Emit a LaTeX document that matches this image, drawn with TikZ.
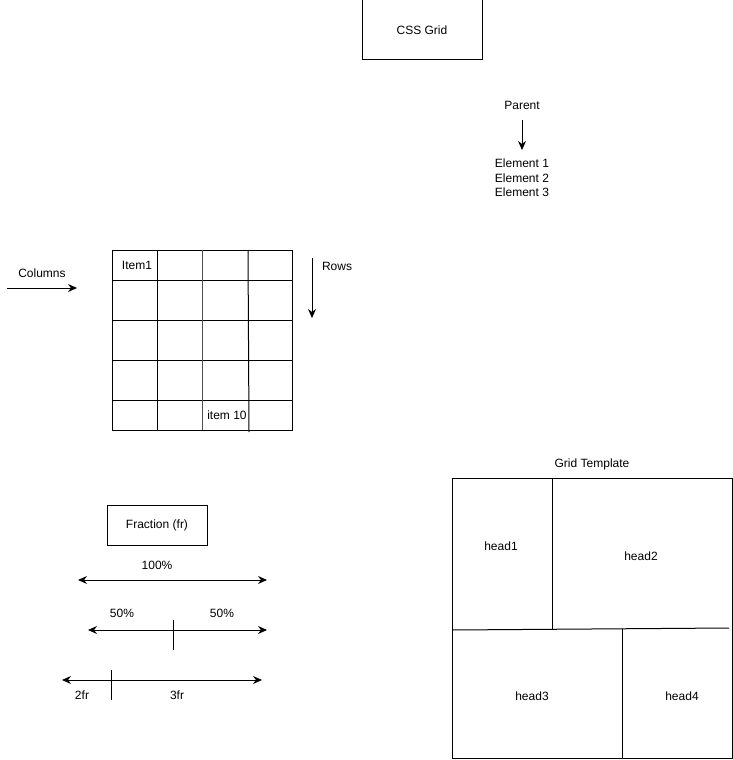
\documentclass[tikz,border=0pt]{standalone}
\usepackage{fontspec}
\setmainfont{Liberation Sans}
\usetikzlibrary{positioning,arrows.meta}
\tikzset{>={Stealth[length=9pt, width=8pt, inset=3pt]}, % arrow heads
every node/.style={font=\fontsize{12}{14.5}\selectfont, inner sep=1pt},
every path/.style={line width=1pt}, % one pixel lines
box/.style={draw, minimum width=120, minimum height=60},
label text/.style={align=center},
}

\begin{document}
\begin{tikzpicture}[x=1pt, y=-1pt]
\useasboundingbox (0,0) rectangle (733,760);
% title
\node[box] (title) at (422,30) {CSS Grid};
% parent and children
\node (parent) at (522,105) {Parent};
\coordinate (ptop) at (522,120);
\coordinate (pdown) at (522,150);
\node[label text] (elements) at (522,178) {Element 1\\Element 2\\Element 3};
\draw[->] (ptop) -- (pdown);
% columns and rows
\node (columns) at (42,273) {Columns};
\coordinate (colstart) at (7,288);
\coordinate (colend) at (77,288);
\draw[->] (colstart) -- (colend);
\node (rows) at (337,266) {Rows};
\coordinate (rowstart) at (312,258);
\coordinate (rowend) at (312,318);
\draw[->] (rowstart) -- (rowend);
% the grid
\draw (112,250) rectangle (292,430);
\foreach \y in {280,320,360,400}
  \draw (112,\y) -- (292,\y);
\draw (157,250) -- (157,430);
\draw[black!70] (202,250) -- (202,430);
\draw (248,250) -- (249,432);
\node (item1) at (137,265) {Item1};
\node (item10) at (227,415) {item 10};
% fractions
\node[box, minimum width=100, minimum height=40] (fraction) at (157,525) {Fraction (fr)};
\node (full) at (157,565) {100\%};
\coordinate (fullL) at (78,580);
\coordinate (fullR) at (267,580);
\draw[<->] (fullL) -- (fullR);
\node (halfA) at (122,613) {50\%};
\node (halfB) at (222,613) {50\%};
\coordinate (halfL) at (88,630);
\coordinate (halfR) at (267,630);
\draw[<->] (halfL) -- (halfR);
\draw (173,620) -- (173,650);
\coordinate (frL) at (62,680);
\coordinate (frR) at (262,680);
\draw[<->] (frL) -- (frR);
\draw (111,670) -- (111,700);
\node (twofr) at (82,695) {2fr};
\node (threefr) at (177,695) {3fr};
% grid template
\node (template) at (592,464) {Grid Template};
\draw (452,478) rectangle (732,758);
\draw (552,478) -- (552,630);
\draw (452,630) -- (729,628);
\draw (622,629) -- (622,758);
\node (head1) at (501,546) {head1};
\node (head2) at (641,556) {head2};
\node (head3) at (532,696) {head3};
\node (head4) at (682,696) {head4};
\end{tikzpicture}
\end{document}
